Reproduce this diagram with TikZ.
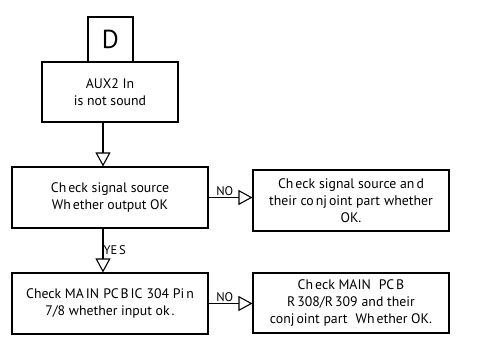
\documentclass[tikz,border=0pt]{standalone}
\usepackage{fontspec}
\setmainfont{PT Sans}
\usetikzlibrary{arrows.meta}
\newcommand{\gp}{\kern2pt}
\newcommand{\wg}{\hspace{4pt}}
\begin{document}
\begin{tikzpicture}[x=1pt,y=-1pt,
  box/.style={draw,line width=1.1pt,align=center,inner sep=2pt,font=\fontsize{13.8}{16.8}\selectfont},
  conn/.style={line width=1.1pt,-{Triangle[open,length=14pt,width=15pt,line width=1.1pt]}},
  lab/.style={font=\fontsize{12.5}{13}\selectfont,inner sep=1pt}]
\useasboundingbox (0,0) rectangle (477,338);
\node[box,minimum width=45pt,minimum height=45pt,font=\fontsize{26}{28}\selectfont] (D) at (110.5,39.5) {D};
\node[box,minimum width=136pt,minimum height=60pt] (A) at (110,92) {AUX2 In\\is not sound};
\node[box,minimum width=196pt,minimum height=61pt] (B) at (110,197.5) {Ch\gp eck signal source\\Wh\gp ether output OK};
\node[box,minimum width=196pt,minimum height=61pt] (C) at (110,303.5) {Check MA\gp IN\wg PC\gp B\gp IC\wg 304 Pi\gp n\\7/8 whether input ok\gp .};
\node[box,minimum width=196pt,minimum height=61pt] (R1) at (351,200.5) {Ch\gp eck\wg signal source an\gp d\\their co\gp nj\gp oint part\wg whether\\OK.};
\node[box,minimum width=196pt,minimum height=60pt] (R2) at (351,303) {Ch\gp eck MAIN\wg\wg PC\gp B\\R\gp 308/R\gp 309\wg and their\\conj\gp oint part\wg\wg Wh\gp ether OK.};
\draw[conn] ([xshift=-7pt]A.south) -- ([xshift=-7pt]B.north);
\draw[conn] ([xshift=-7pt]B.south) -- node[lab,pos=0.5,anchor=west,inner sep=0pt]{YE\gp S} ([xshift=-7pt]C.north);
\draw[conn] (B.east) -- node[lab,pos=0.37,anchor=south]{NO} (B.east -| R1.west);
\draw[conn] (C.east) -- node[lab,pos=0.37,anchor=south]{NO} (C.east -| R2.west);
\end{tikzpicture}
\end{document}
